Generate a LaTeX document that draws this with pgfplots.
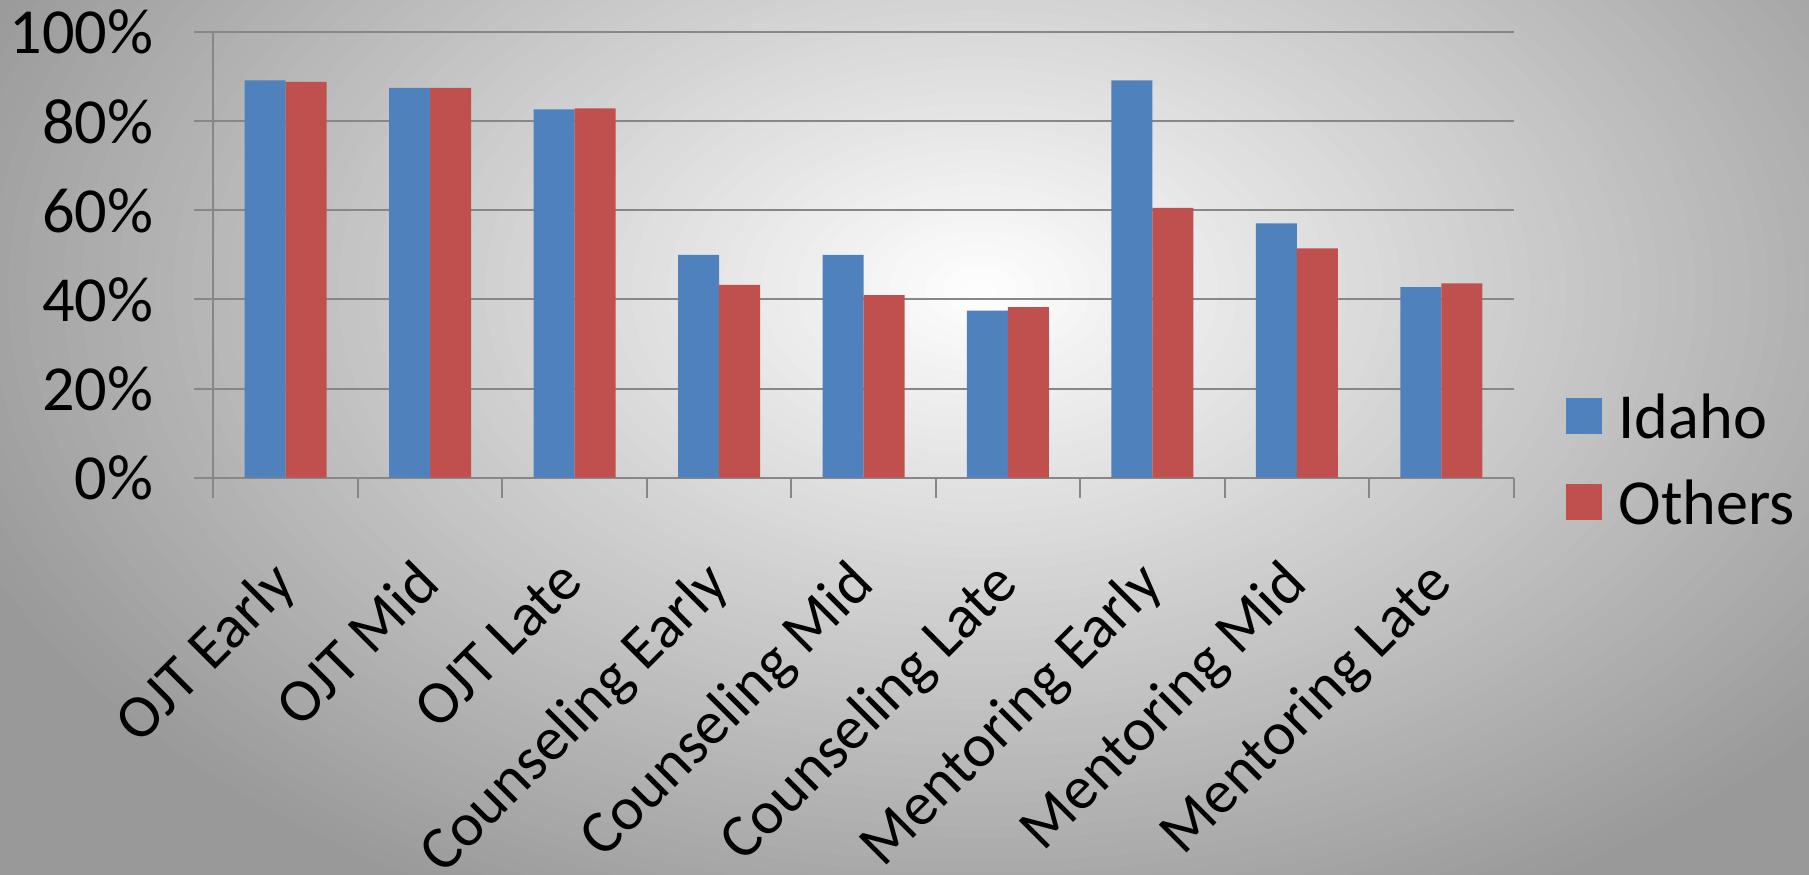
\documentclass[border=0pt]{standalone}
\usepackage{pgfplots}
\pgfplotsset{compat=1.18}
\usepackage{fontspec}
\setmainfont{Carlito}
\definecolor{idaho}{HTML}{4F81BD}
\definecolor{others}{HTML}{C0504D}
\definecolor{gridgray}{HTML}{878787}
\begin{document}
\begin{tikzpicture}
\path[use as bounding box] (0,0) rectangle (723.6pt,350pt);
\fill[black!40] (0,0) rectangle (723.6pt,350pt);
\begin{scope}
\clip (0,0) rectangle (723.6pt,350pt);
\foreach \k in {60,59,...,1}{
  \pgfmathsetmacro\c{40/60*\k}
  \pgfmathsetlengthmacro\rx{440pt/60*\k}
  \pgfmathsetlengthmacro\ry{280pt/60*\k}
  \fill[black!\c] (392pt,234pt) ellipse ({\rx} and {\ry});
}
\end{scope}
\begin{axis}[
  at={(85.36pt,158.96pt)}, anchor=south west,
  scale only axis, width=520.1pt, height=178.1pt,
  ybar=0pt, bar width=16.4pt,
  xmin=-0.5, xmax=8.5, ymin=0, ymax=100,
  xtick={0,...,8},
  xticklabels={OJT Early,OJT Mid,OJT Late,Counseling Early,Counseling Mid,Counseling Late,Mentoring Early,Mentoring Mid,Mentoring Late},
  major x tick style={draw=none},
  minor xtick={-0.5,0.5,...,8.5},
  tick align=outside, major tick length=7.6pt, minor tick length=8pt,
  ytick={0,20,...,100},
  yticklabels={0\%,20\%,40\%,60\%,80\%,100\%},
  ymajorgrids, grid style={gridgray, line width=0.8pt},
  axis x line*=bottom, axis y line*=left,
  axis line style={gridgray, line width=0.8pt},
  tick style={gridgray, line width=0.8pt},
  tick label style={text=black},
  yticklabel style={font=\fontsize{25.7}{30}\selectfont, xshift=-13pt},
  xticklabel style={font=\fontsize{24.5}{29}\selectfont, xshift=-7pt, yshift=-19pt, rotate=45, anchor=north east},
  legend style={draw=none, fill=none, at={(1.04,0.038)}, anchor=west,
    font=\fontsize{25.7}{30}\selectfont, row sep=11pt, inner sep=0pt},
  legend cell align=left,
  legend image code/.code={\fill[#1] (0pt,-6.5pt) rectangle (14.4pt,7.9pt); \path (19pt,0pt);},
]
\addplot[fill=idaho, draw=none] coordinates {(0,89.2) (1,87.5) (2,82.7) (3,50.0) (4,50.0) (5,37.5) (6,89.2) (7,57.1) (8,42.8)};
\addplot[fill=others, draw=none] coordinates {(0,88.9) (1,87.5) (2,82.9) (3,43.3) (4,41.0) (5,38.3) (6,60.6) (7,51.5) (8,43.6)};
\legend{Idaho,Others}
\end{axis}
\end{tikzpicture}
\end{document}
